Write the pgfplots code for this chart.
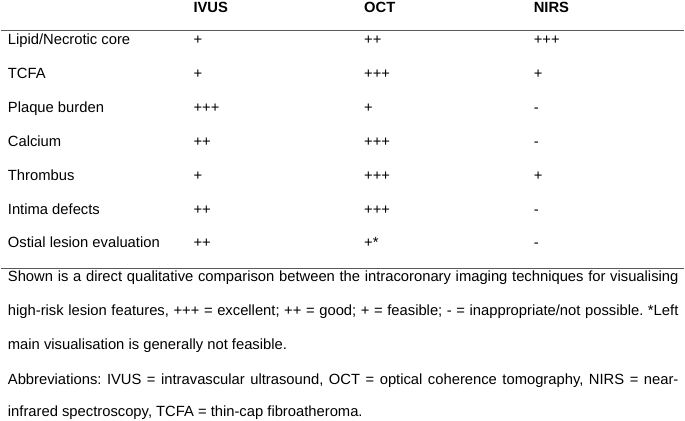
\documentclass[border=0pt]{standalone}
\usepackage{pgfplots}
\pgfplotsset{compat=1.18}
\usepackage{fontspec}
\setmainfont{Liberation Sans}
\definecolor{rulegray}{HTML}{5A5A5A}
\newcommand{\tf}{\fontsize{14.8}{17}\selectfont\frenchspacing}
\newcommand{\trow}[5]{%
  \node[anchor=base west, inner sep=0pt] at (axis cs:7,#5) {\tf #1};
  \node[anchor=base west, inner sep=0pt] at (axis cs:193,#5) {\tf #2};
  \node[anchor=base west, inner sep=0pt] at (axis cs:364,#5) {\tf #3};
  \node[anchor=base west, inner sep=0pt] at (axis cs:534,#5) {\tf #4};
}
\begin{document}
\begin{tikzpicture}
\begin{axis}[
  width=685pt, height=421pt, scale only axis,
  xmin=0, xmax=685, ymin=0, ymax=421, y dir=reverse,
  hide axis, clip=false,
]
\addplot[draw=rulegray, line width=1.5pt] coordinates {(0,30.5) (685,30.5)};
\addplot[draw=rulegray, line width=1.5pt] coordinates {(0,269) (685,269)};
\path (axis cs:0,0) (axis cs:685,421);
% header
\node[anchor=base west, inner sep=0pt] at (axis cs:193,12.5) {\tf\bfseries IVUS};
\node[anchor=base west, inner sep=0pt] at (axis cs:364,12.5) {\tf\bfseries OCT};
\node[anchor=base west, inner sep=0pt] at (axis cs:534,12.5) {\tf\bfseries NIRS};
% rows
\trow{Lipid/Necrotic core}{+}{++}{+++}{44.5}
\trow{TCFA}{+}{+++}{+}{78.5}
\trow{Plaque burden}{+++}{+}{-}{112.5}
\trow{Calcium}{++}{+++}{-}{146.5}
\trow{Thrombus}{+}{+++}{+}{180.5}
\trow{Intima defects}{++}{+++}{-}{214.5}
\trow{Ostial lesion evaluation}{++}{+*}{-}{248.5}
% caption
\node[anchor=base west, inner sep=0pt] at (axis cs:7,282.5) {\tf\hbox to 672pt{Shown is a direct qualitative comparison between the intracoronary imaging techniques for visualising}};
\node[anchor=base west, inner sep=0pt] at (axis cs:7,316) {\tf\hbox to 672pt{high-risk lesion features, +++ = excellent; ++ = good; + = feasible; - = inappropriate/not possible. *Left}};
\node[anchor=base west, inner sep=0pt] at (axis cs:7,350) {\tf main visualisation is generally not feasible.};
\node[anchor=base west, inner sep=0pt] at (axis cs:7,385) {\tf\hbox to 672pt{Abbreviations: IVUS = intravascular ultrasound, OCT = optical coherence tomography, NIRS = near-}};
\node[anchor=base west, inner sep=0pt] at (axis cs:7,417) {\tf infrared spectroscopy, TCFA = thin-cap fibroatheroma.};
\end{axis}
\end{tikzpicture}
\end{document}
